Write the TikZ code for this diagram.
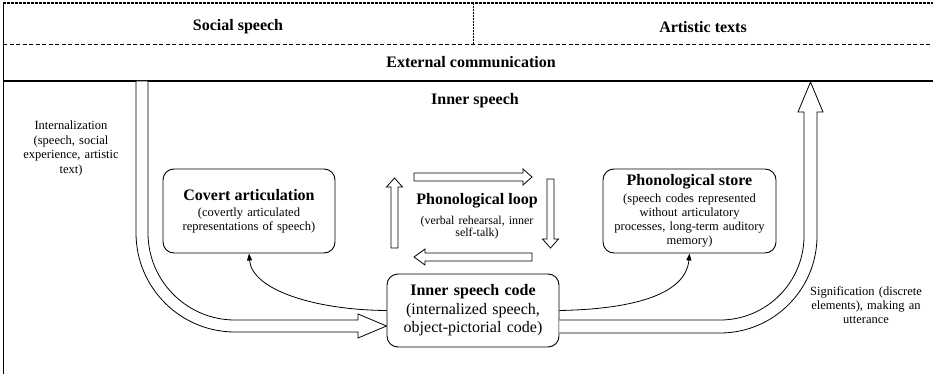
\documentclass[tikz,border=0pt]{standalone}
\usepackage{fontspec}
\setmainfont{Liberation Serif}
\usetikzlibrary{arrows.meta}
\tikzset{
  big/.style={font=\fontsize{16}{19}\selectfont\bfseries},
  small/.style={font=\fontsize{12.5}{14.5}\selectfont, align=center},
  rbox/.style={draw, line width=0.9pt, rounded corners=11pt, align=center, inner sep=2pt},
  blockarrow/.style={draw, line width=0.8pt, fill=white, line join=miter},
  thinarrow/.style={line width=0.8pt, -{Triangle[length=7pt,width=5pt]}},
  hdrline/.style={line width=0.9pt, dash pattern=on 4pt off 2.5pt}
}
\newcommand{\ttl}[1]{{\fontsize{16}{19}\selectfont\bfseries #1}}
\begin{document}
\begin{tikzpicture}[x=1pt,y=-1pt]
\useasboundingbox (0,0) rectangle (933,374);
% frame lines
\draw[hdrline, line width=1.3pt, dash pattern=on 3pt off 1pt] (3,3) -- (933,3);
\draw[hdrline] (3,44) -- (933,44);
\draw[hdrline, dash pattern=on 2pt off 1pt] (473,3) -- (473,44);
\draw[line width=1.1pt] (3,81) -- (933,81);
\draw[line width=1pt] (3,3) -- (3,374);
% header texts
\node[big] (soc) at (238,27) {Social speech};
\node[big] (art) at (703,27) {Artistic texts};
\node[big] (ext) at (471,62) {External communication};
\node[big] (inn) at (475,101) {Inner speech};
% boxes
\node[rbox, minimum width=172pt, minimum height=84pt, text width=166pt,
      font=\fontsize{12.5}{13.5}\selectfont] (ca) at (249,211)
  {\ttl{Covert articulation}\\[3pt]
   (covertly articulated\\ representations of speech)};
\node[rbox, minimum width=173pt, minimum height=84pt, text width=167pt,
      font=\fontsize{12.5}{14}\selectfont] (ps) at (689.5,211)
  {\ttl{Phonological store}\\[3.5pt]
   (speech codes represented\\ without articulatory\\ processes, long-term auditory\\ memory)};
\node[rbox, minimum width=172pt, minimum height=73pt, text width=166pt,
      font=\fontsize{16}{18.5}\selectfont] (isc) at (473,310.5)
  {\textbf{Inner speech code}\\ (internalized speech,\\ object-pictorial code)};
\node[align=center, text width=150pt, font=\fontsize{12}{11.8}\selectfont] (pl) at (477,216)
  {\ttl{Phonological loop}\\[7pt]
   (verbal rehearsal, inner\\ self-talk)};
% side labels
\node[small, text width=120pt] (intl) at (71,148.5) {Internalization\\ (speech, social\\ experience, artistic\\ text)};
\node[small, text width=140pt, font=\fontsize{12.5}{14}\selectfont] (sig) at (866,305) {Signification (discrete\\ elements), making an\\ utterance};
% big left arrow: internalization
\draw[blockarrow] (136,81) -- (136,233) arc[start angle=180, end angle=90, radius=99]
  -- (358,332) -- (358,338) -- (isc.west |- 0,326) -- (358,314) -- (358,320)
  -- (235,320) arc[start angle=90, end angle=180, radius=87] -- (148,81) -- cycle;
% big right arrow: signification
\draw[blockarrow] (isc.east |- 0,320) -- (720,320) arc[start angle=90, end angle=0, radius=84]
  -- (804,112) -- (798,112) -- (810.5,82) -- (823,112) -- (817,112) -- (817,236)
  arc[start angle=0, end angle=90, radius=97] -- (isc.east |- 0,333);
% phonological loop block arrows
\draw[blockarrow] (391,248) -- (391,187) -- (386.5,187) -- (394.5,178) -- (402.5,187) -- (398,187) -- (398,248) -- cycle;
\draw[blockarrow] (414,173) -- (523,173) -- (523,169) -- (532,177) -- (523,185) -- (523,181) -- (414,181) -- cycle;
\draw[blockarrow] (547,179) -- (547,239) -- (542.5,239) -- (550.5,248) -- (558.5,239) -- (554,239) -- (554,179) -- cycle;
\draw[blockarrow] (532,253) -- (425,253) -- (425,249) -- (414,257) -- (425,265) -- (425,261) -- (532,261) -- cycle;
% thin curved arrows
\draw[thinarrow] (isc.west) .. controls (315,310) and (252,290) .. (ca.south);
\draw[thinarrow] (isc.east) .. controls (640,309) and (686,292) .. (ps.south);
\end{tikzpicture}
\end{document}
